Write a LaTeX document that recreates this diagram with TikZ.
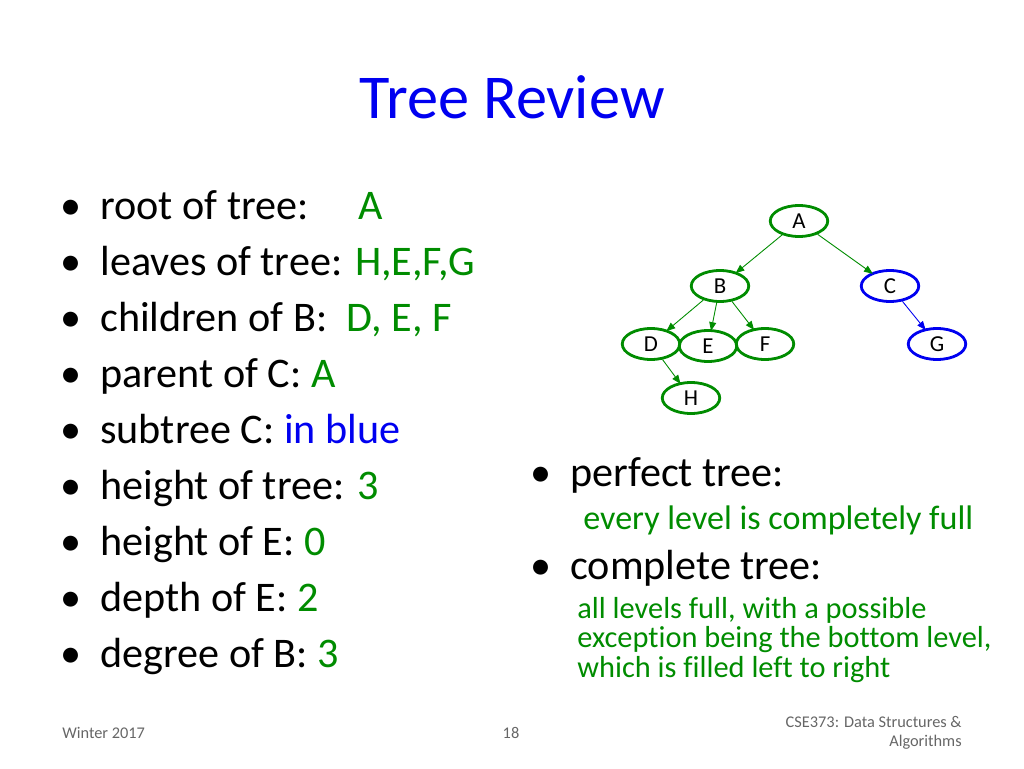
\documentclass[tikz,border=0pt]{standalone}
\usepackage{fontspec}
\setmainfont{Carlito}[Ligatures=NoCommon]
\usetikzlibrary{shapes.geometric, arrows.meta}
\definecolor{treegreen}{RGB}{0,140,0}
\definecolor{treeblue}{RGB}{0,0,240}
\tikzset{
  tnode/.style={ellipse, draw=treegreen, line width=1.6pt, minimum width=1.15cm, minimum height=0.62cm, inner sep=0pt, font=\fontsize{13}{15}\selectfont},
  bnode/.style={tnode, draw=treeblue},
  tedge/.style={-{Triangle[length=5pt,width=4pt]}, color=treegreen, line width=0.5pt, shorten >=-1pt},
  item/.style={anchor=west, font=\fontsize{24}{28}\selectfont, inner sep=0pt, text height=0.7em, text depth=0.2em},
  note/.style={anchor=west, font=\fontsize{19.4}{21}\selectfont, text=treegreen, inner sep=0pt},
  foot/.style={font=\fontsize{9.3}{11}\selectfont, text=black!60, inner sep=0pt}
}
\begin{document}
\begin{tikzpicture}[x=0.02cm, y=-0.02cm]
\useasboundingbox (0,0) rectangle (1024,768);

\node[font=\fontsize{35.5}{40}\selectfont, text=treeblue] (title) at (512,97) {Tree Review};

% left list
\foreach \y/\txt [count=\k] in {
  215/{root of tree:},
  271/{leaves of tree: \textcolor{treegreen}{H,E,F,G}},
  327/{children of B:\ \ \textcolor{treegreen}{D, E, F}},
  383/{parent of C: \textcolor{treegreen}{A}},
  439/{subtree C: \textcolor{treeblue}{in blue}},
  495/{height of tree: \textcolor{treegreen}{3}},
  551/{height of E: \textcolor{treegreen}{0}},
  607/{depth of E: \textcolor{treegreen}{2}},
  663/{degree of B: \textcolor{treegreen}{3}}}{
  \node[item] (dot\k) at (60,\y) {\textbullet};
  \node[item] (line\k) at (100,\y) {\txt};
}
\node[item, text=treegreen] (rootval) at (358,215) {A};

% tree
\node[tnode] (A) at (799,221) {A};
\node[tnode] (B) at (720,286) {B};
\node[bnode] (C) at (890,286) {C};
\node[tnode] (D) at (651,344) {D};
\node[tnode] (E) at (708,346) {E};
\node[tnode] (F) at (765,344) {F};
\node[bnode] (G) at (937,344) {G};
\node[tnode] (H) at (691,398) {H};
\draw[tedge] (A) -- (B);
\draw[tedge] (A) -- (C);
\draw[tedge] (B) -- (D);
\draw[tedge] (B) -- (E);
\draw[tedge] (B) -- (F);
\draw[tedge] (D) -- (H);
\draw[tedge, color=treeblue] (C) -- (G);

% right list
\node[item] (dotp) at (530,482) {\textbullet};
\node[item] (perfect) at (570,482) {perfect tree:};
\node[note] (perfectnote) at (583,520) {every level is completely full};
\node[item] (dotc) at (530,575) {\textbullet};
\node[item] (complete) at (570,575) {complete tree:};
\node[note, align=left, font=\fontsize{17.3}{17}\selectfont] (completenote) at (577,640) {all levels full, with a possible\\exception being the bottom level,\\which is filled left to right};

% footer
\node[foot, anchor=west] (winter) at (62,733) {Winter 2017};
\node[foot] (page) at (511,733) {18};
\node[foot, anchor=east, align=right] (course) at (962,733) {CSE373: Data Structures \&\\Algorithms};
\end{tikzpicture}
\end{document}
